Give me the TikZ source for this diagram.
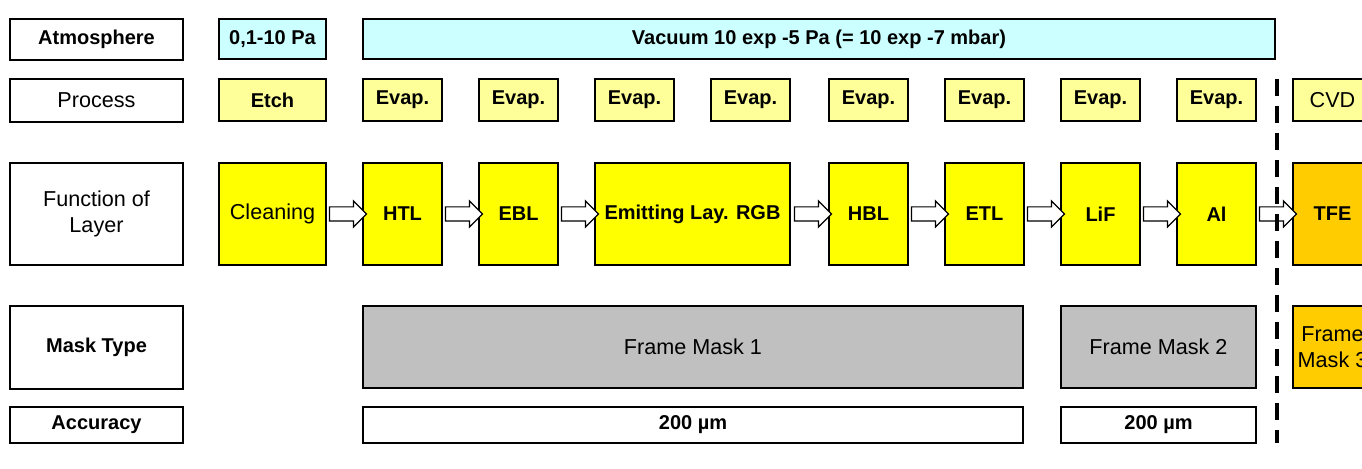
\documentclass[tikz,border=0pt]{standalone}
\usepackage{fontspec}
\setmainfont{Liberation Sans}
\usetikzlibrary{positioning,shapes.arrows,shadows}
\definecolor{vaccyan}{RGB}{204,255,255}
\definecolor{procyel}{RGB}{255,255,153}
\definecolor{layyel}{RGB}{255,255,0}
\definecolor{cvdorange}{RGB}{255,204,0}
\definecolor{maskgray}{RGB}{192,192,192}

\begin{document}
\begin{tikzpicture}[x=0.5pt,y=-0.5pt,font=\bfseries\fontsize{10}{12}\selectfont,
    cell/.style={draw,line width=0.7pt,inner sep=0pt,outer sep=0pt,align=center,anchor=north west,
      drop shadow={shadow xshift=0.7pt,shadow yshift=-0.7pt,fill=black,opacity=1}},
    lite/.style={font=\mdseries\fontsize{10.8}{13}\selectfont},
    head/.style={cell,line width=1.3pt,fill=white,minimum width=86.5pt},
    atmbox/.style={cell,fill=vaccyan,minimum height=20pt},
    procbox/.style={cell,fill=procyel,minimum height=21pt,minimum width=39.5pt},
    laybox/.style={cell,fill=layyel,minimum height=51pt,minimum width=39.5pt},
    maskbox/.style={cell,fill=maskgray,minimum height=41pt},
    accbox/.style={cell,fill=white,minimum height=18pt},
    flow/.style={single arrow,draw,fill=white,line width=0.6pt,inner sep=0pt,outer sep=0pt,
      minimum height=18.5pt,minimum width=0pt,single arrow head extend=3pt},
    sep/.style={line width=2.2pt,dash pattern=on 8.5pt off 5pt}]
    \useasboundingbox (0,0) rectangle (1362,469);
    \clip (0,0) rectangle (1362,469);
    % row titles
    \node[head,minimum height=20.5pt] (hatm) at (10,19) {Atmosphere};
    \node[head,minimum height=21.5pt,lite] (hproc) at (10,79) {Process};
    \node[head,minimum height=51pt,lite] (hlay) at (10,163) {Function of\\Layer};
    \node[head,minimum height=41.5pt] (hmask) at (10,306) {Mask Type};
    \node[head,minimum height=18pt] (hacc) at (10,407) {Accuracy};
    % layers
    \node[laybox,minimum width=53.5pt,lite] (cln) at (219,163) {Cleaning};
    \node[laybox,right=18.5pt of cln] (htl) {HTL};
    \node[laybox,right=18.5pt of htl] (ebl) {EBL};
    \node[laybox,right=18.5pt of ebl,minimum width=97.5pt] (emit) {Emitting Lay. RGB};
    \node[laybox,right=19.5pt of emit] (hbl) {HBL};
    \node[laybox,right=18.5pt of hbl] (etl) {ETL};
    \node[laybox,right=18.5pt of etl] (lif) {LiF};
    \node[laybox,right=18.5pt of lif] (al) {Al};
    \node[laybox,right=18.5pt of al,fill=cvdorange] (tfe) {TFE};
    \foreach \a/\b in {cln/htl,htl/ebl,ebl/emit,emit/hbl,hbl/etl,etl/lif,lif/al,al/tfe}
      \path (\a.east) -- node[flow]{\rule{0pt}{6.5pt}} (\b.west);
    % process
    \node[procbox,minimum width=53.5pt,above right=21pt and 0pt of cln.north west] (etch) {Etch};
    \node[procbox,above right=21pt and 0pt of htl.north west] (ev1) {Evap.};
    \node[procbox,above right=21pt and 0pt of ebl.north west] (ev2) {Evap.};
    \node[procbox,above right=21pt and 0pt of emit.north west] (ev3) {Evap.};
    \node[procbox,above left=21pt and 0pt of emit.north east] (ev4) {Evap.};
    \node[procbox,above right=21pt and 0pt of hbl.north west] (ev5) {Evap.};
    \node[procbox,above right=21pt and 0pt of etl.north west] (ev6) {Evap.};
    \node[procbox,above right=21pt and 0pt of lif.north west] (ev7) {Evap.};
    \node[procbox,above right=21pt and 0pt of al.north west] (ev8) {Evap.};
    \node[procbox,above right=21pt and 0pt of tfe.north west,lite] (cvd) {CVD};
    % atmosphere
    \node[atmbox,minimum width=53.5pt,above right=10pt and 0pt of etch.north west] (low) {0,1-10 Pa};
    \node[atmbox,minimum width=456pt,above right=10pt and 0pt of ev1.north west] (vac) {Vacuum 10 exp -5 Pa (= 10 exp -7 mbar)};
    % masks
    \node[maskbox,minimum width=330pt,below right=20.5pt and 0pt of htl.south west,lite] (fm1) {Frame Mask 1};
    \node[maskbox,minimum width=97.5pt,below right=20.5pt and 0pt of lif.south west,lite] (fm2) {Frame Mask 2};
    \node[maskbox,minimum width=39.5pt,below right=20.5pt and 0pt of tfe.south west,fill=cvdorange,lite] (fm3) {Frame\\Mask 3};
    \node[accbox,minimum width=330pt,below right=9.5pt and 0pt of fm1.south west] (acc1) {200 µm};
    \node[accbox,minimum width=97.5pt,below right=9.5pt and 0pt of fm2.south west] (acc2) {200 µm};
    % split vacuum / CVD
    \coordinate (stop) at (1277,79);
    \coordinate (sbot) at (1277,443);
    \draw[sep] (stop) -- (sbot);
\end{tikzpicture}
\end{document}
